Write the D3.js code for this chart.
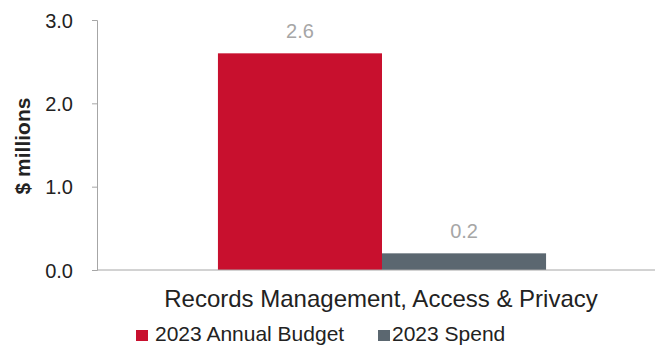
<!DOCTYPE html>
<html>
<head>
<meta charset="utf-8">
<script src="https://cdn.jsdelivr.net/npm/d3@7"></script>
<style>
  body { margin: 0; background: #fff; }
  text { font-family: "Liberation Sans", Arial, sans-serif; }
</style>
</head>
<body>
<svg id="chart" width="659" height="348"></svg>
<script>
var categories = ["Records Management, Access & Privacy"];
var seriesNames = ["2023 Annual Budget", "2023 Spend"];
var seriesValues = [[2.6], [0.2]];
var seriesColors = ["#C8102E", "#5B6770"];
var yTicks = [0, 1, 2, 3];

var svg = d3.select("#chart");

var y = d3.scaleLinear().domain([0, 3]).range([270, 20]);

var x = d3.scaleBand()
    .domain(categories)
    .range([109, 655])
    .paddingInner(0)
    .paddingOuter(0.332);

var xs = d3.scaleBand()
    .domain(seriesNames)
    .range([0, x.bandwidth()]);

// y axis
var yAxis = svg.append("g")
    .attr("transform", "translate(97,0)")
    .call(d3.axisLeft(y).tickValues(yTicks).tickSize(5).tickFormat(d3.format(".1f")));
yAxis.select(".domain").attr("stroke", "#a6a6a6");
yAxis.selectAll(".tick line").attr("stroke", "#a6a6a6");
yAxis.selectAll(".tick text")
    .attr("font-size", 20)
    .attr("fill", "#222")
    .attr("x", -24)
    .attr("dy", "0.36em")
    .attr("font-family", "Liberation Sans, Arial, sans-serif");

// bars
var groups = svg.selectAll(".cat")
    .data(categories)
    .enter()
    .append("g")
    .attr("transform", function (d) { return "translate(" + x(d) + ",0)"; });

seriesNames.forEach(function (s, si) {
    groups.append("rect")
        .attr("x", function () { return xs(s); })
        .attr("y", function (d, ci) { return y(seriesValues[si][ci]); })
        .attr("width", xs.bandwidth())
        .attr("height", function (d, ci) { return y(0) - y(seriesValues[si][ci]); })
        .attr("fill", seriesColors[si]);

    groups.append("text")
        .attr("x", xs(s) + xs.bandwidth() / 2)
        .attr("y", function (d, ci) { return y(seriesValues[si][ci]) - 15; })
        .attr("text-anchor", "middle")
        .attr("font-size", 20)
        .attr("fill", "#a6a6a6")
        .text(function (d, ci) { return seriesValues[si][ci].toFixed(1); });
});

// x axis line
svg.append("line")
    .attr("x1", 97).attr("x2", 655)
    .attr("y1", y(0)).attr("y2", y(0))
    .attr("stroke", "#a6a6a6");

// category label
svg.selectAll(".catlabel")
    .data(categories)
    .enter()
    .append("text")
    .attr("x", function (d) { return x(d) + x.bandwidth() / 2 - 1; })
    .attr("y", 307)
    .attr("text-anchor", "middle")
    .attr("font-size", 24)
    .attr("fill", "#222")
    .text(function (d) { return d; });

// y axis title
svg.append("text")
    .attr("transform", "translate(30,146) rotate(-90)")
    .attr("text-anchor", "middle")
    .attr("font-size", 21)
    .attr("font-weight", "bold")
    .attr("fill", "#222")
    .text("$ millions");

// legend
var legendSwatchX = [136, 378];
var legendTextX = [155, 392];
var legend = svg.selectAll(".legend")
    .data(seriesNames)
    .enter()
    .append("g");
legend.append("rect")
    .attr("x", function (d, i) { return legendSwatchX[i]; })
    .attr("y", 330)
    .attr("width", 12).attr("height", 11)
    .attr("fill", function (d, i) { return seriesColors[i]; });
legend.append("text")
    .attr("x", function (d, i) { return legendTextX[i]; })
    .attr("y", 341)
    .attr("font-size", 21)
    .attr("fill", "#222")
    .text(function (d) { return d; });
</script>
</body>
</html>
